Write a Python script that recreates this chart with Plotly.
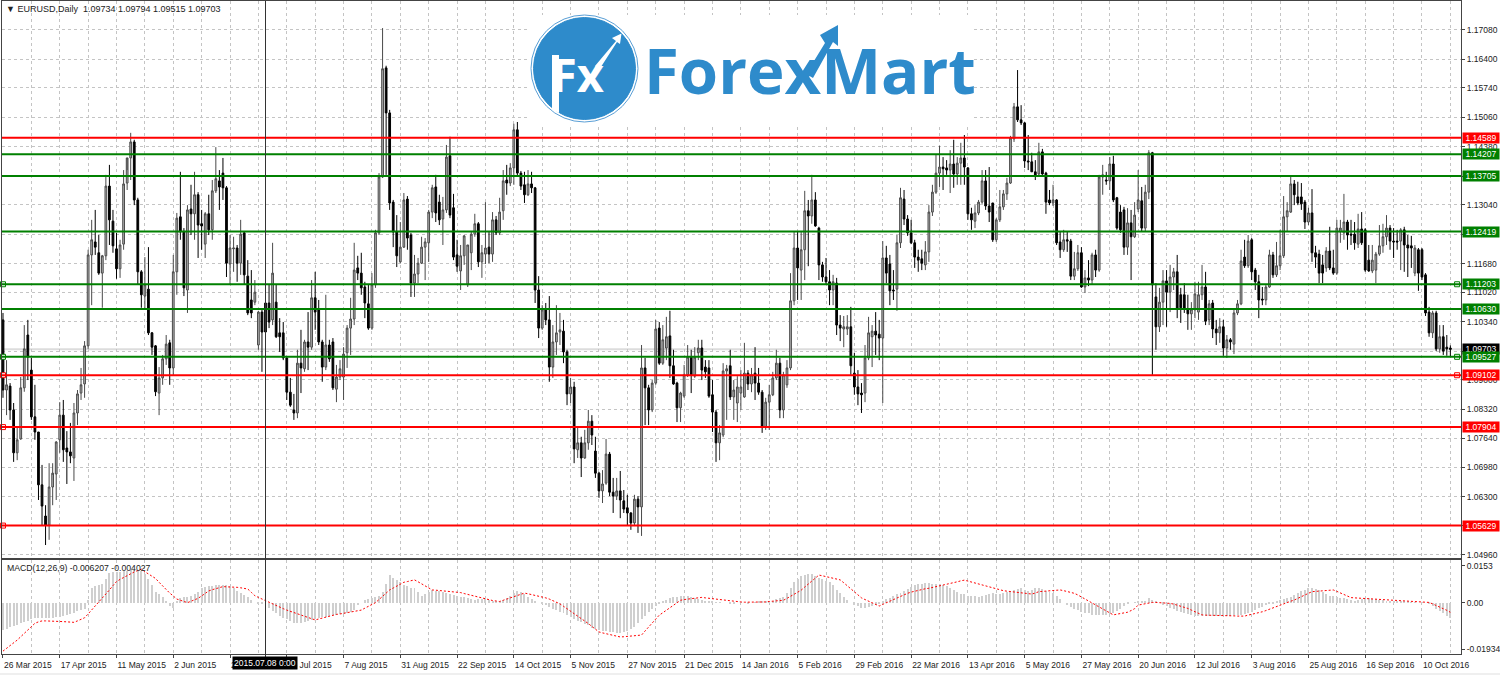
import plotly.graph_objects as go

# Prices in units of 0.0001
OPENS = [
11038,10876,10885,10830,10731,10763,10881,11003,10922,10814,
10779,10657,10585,10564,10652,10682,10761,10818,10742,10733,
10719,10823,10869,10890,10978,11188,11218,11193,11146,11186,
11347,11266,11202,11156,11213,11354,11412,11449,11315,11149,
11093,11109,11008,10978,10869,10904,10948,10985,10927,11149,
11276,11241,11107,11294,11283,11327,11260,11213,11283,11246,
11336,11359,11377,11343,11167,11202,11204,11169,11239,11139,
11084,11079,10980,11056,11077,11077,11038,11079,11008,11008,
10950,10871,10830,10823,10938,10925,10987,10975,11089,11061,
10987,10929,10980,10987,10878,10906,10906,10962,11019,11040,
11158,11146,11114,11075,11019,11119,11239,11368,11620,11516,
11310,11241,11172,11206,11317,11234,11123,11144,11169,11206,
11216,11287,11345,11310,11271,11292,11417,11297,11188,11151,
11186,11119,11193,11236,11260,11172,11190,11206,11190,11269,
11239,11290,11361,11354,11389,11477,11377,11350,11327,11352,
11343,11107,11019,11061,11038,10929,10987,11010,11012,10964,
10867,10883,10738,10754,10719,10754,10804,10735,10684,10643,
10661,10728,10640,10631,10643,10620,10604,10592,10569,10624,
10606,10927,10881,10830,10892,11019,10938,10973,11001,10932,
10892,10835,10862,10911,10952,10908,10962,10973,10929,10927,
10865,10825,10754,10772,10920,10932,10860,10846,10869,10860,
10915,10890,10915,10892,10871,10791,10848,10865,10904,10938,
10830,10888,10927,11082,11204,11153,11200,11290,11278,11315,
11250,11165,11137,11126,11107,11123,11026,11017,11017,11022,
10915,10883,10869,10869,10950,10999,11012,11005,10996,11181,
11167,11107,11109,11216,11317,11271,11239,11216,11183,11179,
11165,11195,11287,11333,11377,11391,11389,11384,11398,11375,
11400,11412,11389,11283,11266,11285,11310,11359,11301,11308,
11223,11269,11299,11329,11354,11456,11530,11500,11493,11405,
11403,11380,11375,11426,11377,11315,11308,11315,11218,11200,
11223,11220,11139,11156,11193,11114,11135,11130,11188,11153,
11368,11361,11359,11398,11320,11287,11292,11206,11262,11230,
11294,11313,11250,11333,11424,11091,11022,11079,11128,11102,
11137,11149,11096,11096,11063,11052,11061,11056,11096,11114,
11038,11077,11017,11008,11022,10973,10992,10982,11054,11075,
11183,11163,11223,11153,11126,11086,11084,11114,11188,11142,
11163,11186,11276,11287,11352,11322,11322,11310,11264,11285,
11193,11190,11165,11158,11197,11158,11146,11241,11239,11264,
11236,11236,11213,11248,11246,11176,11151,11153,11190,11209,
11230,11250,11220,11220,11220,11246,11211,11209,11146,11200,
11200,11142,11056,11008,11054,10971,10999,10975,10973]
HIGHS = [
11054,10945,10892,10846,10791,10906,11026,11038,10950,10888,
10779,10703,10610,10707,10707,10758,10848,10853,10781,10800,
10846,10876,10927,10989,11200,11269,11292,11234,11188,11373,
11396,11292,11239,11223,11384,11384,11470,11454,11320,11153,
11183,11206,11010,10980,10929,10957,11003,10992,11188,11285,
11380,11250,11303,11350,11380,11333,11292,11287,11327,11361,
11437,11384,11412,11347,11234,11230,11211,11269,11243,11176,
11153,11130,11059,11061,11107,11119,11216,11119,11042,11033,
10952,10904,10867,10969,11015,10992,11056,11130,11149,11084,
10992,11096,10992,10996,10934,10945,10975,11026,11089,11216,
11186,11193,11126,11119,11146,11246,11377,11712,11625,11523,
11315,11280,11264,11331,11324,11239,11188,11181,11230,11227,
11292,11350,11373,11327,11322,11442,11461,11329,11223,11211,
11234,11211,11241,11283,11264,11211,11310,11241,11287,11278,
11320,11384,11396,11400,11491,11495,11382,11380,11384,11380,
11345,11139,11072,11077,11093,11026,11072,11054,11038,10969,
10904,10895,10791,10768,10784,10830,10818,10768,10687,10691,
10763,10733,10673,10673,10689,10645,10634,10594,10634,10631,
10980,10950,10888,10899,11038,11033,11026,11045,11059,10969,
10895,10872,10934,10980,10969,10975,10992,10992,10945,10945,
10899,10830,10795,10938,10934,10969,10899,10908,10922,10985,
10922,10927,10975,10927,10876,10858,10888,10918,10969,10950,
10918,10945,11146,11241,11241,11241,11336,11315,11373,11333,
11253,11172,11181,11153,11142,11135,11049,11047,11049,11068,
10962,10922,10892,10980,11045,11026,11056,11038,11220,11209,
11188,11153,11234,11343,11338,11280,11269,11223,11200,11200,
11220,11303,11350,11419,11440,11414,11407,11430,11454,11414,
11447,11465,11391,11297,11303,11315,11384,11384,11391,11308,
11273,11338,11338,11366,11463,11539,11615,11534,11495,11465,
11424,11407,11447,11433,11380,11338,11350,11317,11241,11246,
11243,11225,11195,11211,11206,11153,11176,11193,11200,11373,
11396,11380,11414,11417,11322,11303,11299,11296,11292,11310,
11384,11345,11350,11430,11426,11123,11112,11153,11153,11165,
11158,11188,11112,11123,11096,11079,11126,11126,11165,11149,
11084,11084,11038,11042,11038,11003,10996,11061,11084,11200,
11223,11234,11227,11158,11142,11114,11119,11200,11195,11218,
11246,11324,11310,11368,11361,11357,11354,11315,11297,11340,
11209,11200,11188,11206,11253,11200,11269,11269,11329,11269,
11269,11264,11283,11287,11250,11211,11211,11195,11257,11260,
11280,11257,11250,11246,11250,11253,11234,11232,11211,11204,
11204,11146,11068,11059,11059,11026,11026,11003,10979]
LOWS = [
10858,10818,10807,10710,10714,10761,10872,10899,10807,10761,
10622,10564,10518,10530,10610,10622,10731,10710,10659,10707,
10666,10795,10853,10858,10971,11072,11188,11142,11066,11176,
11211,11193,11133,11135,11200,11338,11361,11303,11119,11066,
11061,11003,10957,10862,10818,10888,10934,10888,10911,11096,
11223,11093,11054,11234,11223,11181,11200,11181,11234,11223,
11331,11292,11315,11137,11119,11149,11126,11142,11119,11049,
11042,11072,10969,10918,11003,11019,11026,10996,10964,10945,
10853,10837,10807,10811,10869,10918,10922,10969,11015,10980,
10895,10922,10941,10876,10848,10899,10853,10927,10957,11026,
11130,11096,11042,11015,11015,11112,11234,11366,11373,11292,
11206,11160,11169,11204,11200,11091,11091,11123,11167,11130,
11172,11273,11264,11257,11211,11285,11273,11176,11149,11107,
11165,11114,11153,11230,11160,11135,11167,11169,11172,11234,
11234,11269,11327,11347,11350,11368,11338,11308,11324,11331,
11077,10996,11015,11026,10895,10904,10957,10980,10938,10841,
10846,10707,10719,10675,10717,10738,10749,10673,10627,10615,
10657,10631,10592,10622,10580,10592,10564,10553,10564,10546,
10539,10795,10795,10825,10888,10934,10934,10945,10904,10888,
10802,10802,10858,10906,10869,10904,10945,10899,10904,10858,
10779,10710,10714,10767,10807,10853,10807,10802,10830,10858,
10876,10871,10853,10865,10777,10784,10784,10862,10899,10811,
10811,10881,10922,11072,11084,11084,11130,11162,11260,11253,
11130,11126,11119,11072,11072,11003,10989,10975,11003,10911,
10865,10841,10823,10848,10945,10929,10957,10945,10846,11123,
11072,11084,11059,11204,11257,11232,11213,11158,11149,11153,
11153,11172,11278,11329,11345,11338,11373,11331,11343,11350,
11350,11350,11269,11246,11250,11280,11306,11292,11264,11218,
11218,11264,11292,11315,11352,11449,11495,11488,11389,11384,
11380,11361,11370,11373,11283,11303,11301,11211,11181,11195,
11195,11130,11130,11151,11112,11100,11116,11119,11137,11149,
11327,11350,11338,11310,11246,11239,11188,11188,11130,11227,
11287,11241,11241,11317,10911,10969,11010,11026,11022,11056,
11107,11042,11031,11054,11015,11015,11042,11038,11084,11026,
11026,10996,10980,10985,10955,10950,10969,10959,11049,11072,
11158,11158,11130,11107,11042,11072,11072,11112,11135,11137,
11153,11181,11243,11285,11303,11303,11292,11248,11257,11172,
11158,11123,11123,11149,11153,11142,11142,11216,11223,11200,
11211,11200,11204,11211,11149,11149,11146,11123,11186,11193,
11211,11200,11181,11200,11153,11149,11137,11158,11139,11105,
11130,11047,10999,10996,10966,10962,10957,10955,10952]
CLOSES = [
10876,10888,10830,10731,10761,10881,10971,10952,10814,10779,
10657,10608,10564,10652,10684,10756,10818,10738,10733,10724,
10823,10867,10888,10978,11188,11223,11206,11146,11186,11347,
11269,11209,11156,11211,11352,11412,11449,11315,11149,11096,
11119,11008,10975,10872,10904,10948,10982,10927,11149,11273,
11241,11112,11292,11283,11327,11257,11255,11283,11246,11336,
11364,11345,11343,11169,11204,11204,11169,11236,11142,11054,
11054,11102,11056,11010,11010,11033,11146,10999,10999,10950,
10871,10841,10823,10938,10927,10987,10975,11089,11056,10987,
10929,10980,10948,10881,10906,10925,10959,11019,11040,11153,
11146,11112,11077,11019,11119,11239,11368,11618,11516,11308,
11241,11186,11206,11315,11227,11123,11144,11169,11206,11218,
11287,11343,11285,11269,11292,11414,11280,11183,11162,11186,
11232,11211,11236,11260,11172,11193,11204,11190,11269,11239,
11287,11359,11354,11389,11477,11377,11347,11327,11352,11343,
11107,11019,11061,11038,10929,10987,11008,11015,10964,10867,
10883,10740,10754,10719,10754,10804,10772,10684,10643,10659,
10728,10640,10631,10643,10622,10601,10592,10569,10624,10606,
10927,10881,10830,10892,11017,10938,10992,10999,10932,10890,
10835,10869,10911,10952,10911,10952,10973,10922,10918,10862,
10825,10754,10777,10920,10925,10860,10876,10883,10883,10915,
10890,10911,10892,10871,10791,10848,10865,10904,10938,10830,
10911,10927,11082,11204,11158,11200,11290,11278,11315,11255,
11165,11137,11126,11107,11126,11026,11019,11022,11022,10932,
10883,10867,10865,10950,11008,11012,11003,10996,11181,11146,
11105,11105,11216,11320,11271,11239,11216,11183,11176,11169,
11195,11287,11333,11377,11391,11387,11384,11398,11375,11400,
11412,11391,11283,11269,11285,11310,11359,11301,11287,11223,
11269,11299,11329,11354,11458,11530,11500,11493,11405,11403,
11380,11370,11426,11375,11310,11308,11315,11216,11200,11223,
11220,11139,11156,11193,11114,11135,11130,11188,11153,11368,
11373,11359,11398,11315,11250,11246,11206,11262,11230,11280,
11315,11250,11333,11424,11119,11022,11079,11128,11102,11137,
11149,11063,11066,11063,11052,11063,11098,11096,11114,11035,
11075,11017,11008,11022,10973,10992,10987,11054,11075,11174,
11163,11220,11149,11126,11084,11084,11114,11188,11142,11163,
11186,11276,11290,11352,11327,11308,11306,11264,11285,11193,
11183,11146,11146,11197,11158,11146,11250,11250,11264,11234,
11234,11216,11248,11216,11153,11151,11176,11190,11209,11230,
11250,11220,11218,11218,11246,11211,11204,11204,11204,11146,
11137,11054,11008,11054,10971,10999,10966,10971,10970]

# MACD pane, units of 0.0001
MACD_HIST = [
-114,-108,-102,-97,-92,-85,-80,-75,-70,-65,
-65,-64,-64,-63,-62,-61,-60,-57,-52,-48,
-42,-35,-30,-25,10,60,68,74,80,100,
122,126,128,130,132,134,135,136,136,134,
120,100,75,46,35,22,5,-15,-24,5,
18,22,25,28,35,45,60,64,68,70,
72,74,74,72,68,60,50,42,32,24,
12,0,-2,-5,-10,-24,-35,-45,-55,-62,
-70,-78,-84,-86,-84,-80,-76,-72,-68,-65,
-60,-58,-55,-52,-50,-48,-46,-45,-40,-30,
-10,0,10,15,20,25,30,45,80,115,
105,95,85,75,68,62,60,45,30,35,
45,53,50,48,45,42,38,32,28,24,
22,20,16,12,14,16,18,12,8,6,
5,10,20,30,40,50,45,35,25,15,
8,0,-5,-10,-18,-25,-32,-38,-45,-52,
-60,-68,-75,-82,-90,-95,-105,-110,-115,-118,
-120,-122,-124,-125,-125,-122,-118,-110,-100,-85,
-70,-55,-40,-25,-15,-5,5,12,18,22,
25,28,30,28,22,18,14,10,8,6,
4,2,2,0,0,-2,-2,0,2,0,
-2,0,2,4,6,8,6,8,14,20,
25,40,60,85,100,110,115,120,118,110,
105,100,92,85,72,55,40,25,10,0,
-8,-15,-20,-22,-18,-12,-8,-2,5,15,
20,28,35,42,50,58,65,72,78,80,
82,84,80,78,76,72,68,60,52,45,
38,35,30,28,26,24,28,32,36,40,
38,35,40,45,50,55,58,60,55,48,
55,60,60,58,50,45,40,30,15,0,
-10,-18,-25,-32,-38,-42,-45,-50,-52,-52,
-50,-50,-48,-42,-35,-25,-15,-5,0,2,
4,5,8,18,10,4,0,-8,-15,-22,
-28,-34,-38,-42,-48,-52,-54,-55,-56,-56,
-56,-55,-55,-55,-54,-54,-54,-52,-52,-50,
-48,-45,-40,-30,-22,-17,-10,-5,-2,5,
10,14,18,25,32,40,48,55,60,60,
58,52,45,35,30,28,24,20,18,14,
10,8,10,14,16,18,16,14,12,10,
8,6,5,6,5,4,3,2,1,0,
2,0,-5,-15,-25,-35,-45,-55,-62]
MACD_SIGNAL = [
-202,-191,-180,-170,-156,-142,-128,-114,-100,-86,
-80,-76,-76,-76,-76,-77,-78,-79,-80,-81,
-82,-76,-70,-63,-47,-31,-15,2,18,36,
53,71,88,97,105,114,122,128,134,140,
129,120,110,101,85,69,53,40,28,15,
10,5,0,6,12,18,28,39,49,54,
58,63,67,66,66,65,64,62,60,57,
43,29,22,15,7,0,-6,-12,-19,-25,
-31,-36,-42,-47,-53,-58,-63,-67,-72,-68,
-64,-59,-55,-51,-49,-47,-44,-42,-40,-37,
-34,-31,-23,-16,-8,0,13,27,40,53,
61,69,77,85,88,92,95,87,78,70,
61,53,52,51,50,49,48,47,46,42,
38,34,30,26,22,18,15,12,9,7,
5,10,15,20,25,30,35,40,37,34,
31,28,24,20,15,9,2,-5,-15,-25,
-35,-45,-55,-65,-76,-87,-99,-110,-122,-126,
-129,-133,-136,-140,-143,-142,-141,-139,-138,-136,
-135,-118,-102,-85,-69,-52,-42,-31,-21,-10,
0,10,13,15,18,21,23,22,20,18,
16,14,12,10,8,6,5,4,3,2,
2,1,0,0,2,3,5,6,8,9,
10,18,27,35,44,52,65,78,90,103,
115,112,108,105,102,98,95,83,70,58,
45,33,20,13,6,-1,-7,-14,-7,0,
7,14,20,27,33,39,44,48,52,56,
58,60,63,67,70,73,77,80,84,87,
91,94,90,86,82,77,73,69,65,60,
56,52,50,48,46,44,43,41,39,37,
36,40,46,47,48,50,51,52,53,50,
47,43,39,32,24,16,8,0,-8,-17,
-26,-34,-43,-51,-48,-45,-43,-40,-33,-25,
-10,-7,-4,-1,1,1,0,0,0,-3,
-6,-10,-13,-17,-24,-31,-38,-44,-51,-52,
-52,-53,-53,-54,-54,-55,-55,-55,-56,-56,
-56,-52,-49,-45,-41,-38,-33,-27,-21,-16,
-10,-5,0,6,11,18,25,32,39,46,
47,48,50,51,52,53,47,41,34,27,
21,20,19,18,18,17,16,15,15,14,
13,12,11,9,8,7,6,5,4,4,
3,2,1,-5,-11,-17,-25,-32,-40]

DATE_LABELS = ["26 Mar 2015","17 Apr 2015","11 May 2015","2 Jun 2015","24 Jun 2015","16 Jul 2015",
               "7 Aug 2015","31 Aug 2015","22 Sep 2015","14 Oct 2015","5 Nov 2015","27 Nov 2015",
               "21 Dec 2015","14 Jan 2016","5 Feb 2016","29 Feb 2016","22 Mar 2016","13 Apr 2016",
               "5 May 2016","27 May 2016","20 Jun 2016","12 Jul 2016","3 Aug 2016","25 Aug 2016",
               "16 Sep 2016","10 Oct 2016"]
PRICE_TICKS = [1.17080,1.16400,1.15740,1.15060,1.14380,1.13700,1.13040,1.12360,1.11680,1.11020,
               1.10340,1.09660,1.09000,1.08320,1.07640,1.06980,1.06300,1.05620,1.04960]
RED_LEVELS = [1.14589,1.09102,1.07904,1.05629]
GREEN_LEVELS = [1.14207,1.13705,1.12419,1.11203,1.10630,1.09527]
LEFT_ANCHORS = [(1.11203,"g"),(1.09527,"g"),(1.09102,"r"),(1.07904,"r"),(1.05629,"r")]
RIGHT_ANCHORS = [(1.11203,"g"),(1.09527,"g"),(1.09102,"r")]
LAST_PRICE = 1.09703
CROSSHAIR_BAR = 74
GREEN, RED, BLUE = "#008000", "#ff0000", "#2e8bcb"
FONT = "Liberation Sans"

W, H, ML, MR, MT, MB = 1500, 675, 2, 39, 1, 21
PW, PH = W-ML-MR, H-MT-MB
px = lambda v: (v-ML)/PW
py = lambda v: (H-MB-v)/PH

n = len(CLOSES)
xs = list(range(n))
p = lambda a: [v/10000 for v in a]
m = lambda a: [v/10000 for v in a]

fig = go.Figure()
fig.add_trace(go.Candlestick(
    x=xs, open=p(OPENS), high=p(HIGHS), low=p(LOWS), close=p(CLOSES), xaxis="x", yaxis="y",
    increasing=dict(line=dict(color="#4a4a4a", width=1), fillcolor="#b4b4b4"),
    decreasing=dict(line=dict(color="#000000", width=1), fillcolor="#000000"),
    whiskerwidth=0, showlegend=False, hoverinfo="skip"))

fig.add_trace(go.Bar(x=xs, y=m(MACD_HIST), xaxis="x2", yaxis="y2", width=0.28,
                     marker=dict(color="#cfcfcf", line=dict(width=0)), showlegend=False, hoverinfo="skip"))
fig.add_trace(go.Scatter(x=xs, y=m(MACD_SIGNAL), xaxis="x2", yaxis="y2", mode="lines",
                         line=dict(color="#ff0000", width=1, dash="2px,2px"), showlegend=False, hoverinfo="skip"))

shapes, ann = [], []
shapes.append(dict(type="line", xref="paper", yref="y", x0=0, x1=1, y0=LAST_PRICE, y1=LAST_PRICE,
                   line=dict(color="#dcdcdc", width=2), layer="below"))
for lv in RED_LEVELS:
    shapes.append(dict(type="line", xref="paper", yref="y", x0=0, x1=1, y0=lv, y1=lv, line=dict(color=RED, width=2)))
for lv in GREEN_LEVELS:
    shapes.append(dict(type="line", xref="paper", yref="y", x0=0, x1=1, y0=lv, y1=lv, line=dict(color=GREEN, width=2)))
shapes.append(dict(type="line", xref="x", yref="paper", x0=CROSSHAIR_BAR, x1=CROSSHAIR_BAR, y0=py(1), y1=py(665),
                   line=dict(color="#333333", width=1)))
shapes.append(dict(type="rect", xref="paper", yref="paper", x0=px(0), x1=px(1500), y0=py(673), y1=py(675),
                   fillcolor="#efefef", line=dict(width=0)))

for side, items in ((0, LEFT_ANCHORS), (409.9, RIGHT_ANCHORS)):
    fig.add_trace(go.Scatter(x=[side]*len(items), y=[a for a, _ in items], mode="markers", xaxis="x", yaxis="y",
                             cliponaxis=False,
                             marker=dict(symbol="square", size=5, color="#ffffff",
                                         line=dict(width=1, color=[GREEN if c == "g" else RED for _, c in items])),
                             showlegend=False, hoverinfo="skip"))

def level_label(val, bg):
    ann.append(dict(xref="paper", yref="y", x=px(1462), y=val, xanchor="left", yanchor="middle",
                    text=f"{val:.5f}", showarrow=False, bgcolor=bg, width=36, height=10, align="center",
                    borderpad=0, font=dict(family=FONT, size=8.5, color="#ffffff")))
level_label(LAST_PRICE, "#000000")
for lv in RED_LEVELS:
    level_label(lv, RED)
for lv in GREEN_LEVELS:
    level_label(lv, GREEN)

def text_at(x, y, t, size=8.5, color="#222222", anchor="left", **kw):
    ann.append(dict(xref="paper", yref="paper", x=px(x), y=py(y), xanchor=anchor, yanchor="middle",
                    text=t, showarrow=False, font=dict(family=FONT, size=size, color=color), **kw))

text_at(4, 9, "▼ EURUSD,Daily  1.09734 1.09794 1.09515 1.09703", size=9)
text_at(5, 567.5, "MACD(12,26,9) -0.006207 -0.004027", size=8.7)
text_at(232, 663, "2015.07.08 0:00", color="#ffffff", bgcolor="#000000", borderpad=1)

# Logo
def path(points):
    return "M " + " L ".join(f"{px(a):.5f},{py(b):.5f}" for a, b in points) + " Z"
def poly(points, fill):
    shapes.append(dict(type="path", xref="paper", yref="paper", path=path(points), fillcolor=fill, line=dict(width=0)))
def circle(cx, cy, r, fill, line=None):
    shapes.append(dict(type="circle", xref="paper", yref="paper", x0=px(cx-r), x1=px(cx+r), y0=py(cy+r), y1=py(cy-r),
                       fillcolor=fill, line=dict(color=line or fill, width=1)))
poly([(528,15),(973,15),(973,124),(528,124)], "#ffffff")
circle(584.5, 68.5, 53.5, "#ffffff", "#5a9fd6")
circle(584.5, 68.5, 51, BLUE)
poly([(552,55),(559,55),(559,113),(552,110)], "#ffffff")
poly([(595,66),(616,41),(612,38),(621.5,33.5),(620,44),(617,42),(599,70)], "#ffffff")
ann.append(dict(xref="paper", yref="paper", x=px(549), y=py(74), xanchor="left", yanchor="middle",
                text="<b>Fx</b>", showarrow=False, font=dict(family="Open Sans", size=47, color="#ffffff")))
ann.append(dict(xref="paper", yref="paper", x=px(642), y=py(70), xanchor="left", yanchor="middle",
                text="<b>ForexMart</b>", showarrow=False, font=dict(family="Open Sans", size=63.5, color=BLUE)))
poly([(806,74),(825,43),(820,35),(838,25),(838,46),(833,42),(813,78)], BLUE)

axis_common = dict(showgrid=True, gridcolor="#c4c4c4", griddash="3px,3px", gridwidth=1, showline=True,
                   linecolor="#444444", linewidth=1, mirror=True, zeroline=False, automargin=False)
major = xs[::16]
minor = dict(showgrid=True, dtick=8, tick0=0, gridcolor="#c4c4c4", griddash="3px,3px", gridwidth=1, ticks="")
xrange = [-0.28, 411.0]

fig.update_layout(
    width=W, height=H, margin=dict(l=ML, r=MR, t=MT, b=MB, pad=0, autoexpand=False),
    paper_bgcolor="#ffffff", plot_bgcolor="#ffffff", showlegend=False, bargap=0,
    font=dict(family=FONT, size=8.5, color="#222222"),
    shapes=shapes, annotations=ann,
    xaxis=dict(domain=[0, 1], anchor="y", range=xrange, tickmode="array", tickvals=major, ticktext=[""]*len(major),
               ticks="", showticklabels=False, rangeslider=dict(visible=False), minor=minor, **axis_common),
    yaxis=dict(domain=[0.147, 1], anchor="x", side="right", range=[1.0488, 1.17745], tickmode="array",
               tickvals=PRICE_TICKS, ticktext=[f"{v:.5f}" for v in PRICE_TICKS], ticks="outside", ticklen=3,
               tickcolor="#444444", tickfont=dict(family=FONT, size=8.5, color="#222222"), **axis_common),
    xaxis2=dict(domain=[0, 1], anchor="y2", range=xrange, tickmode="array", tickvals=major, ticktext=DATE_LABELS,
                tickangle=0, ticks="outside", ticklen=3, tickcolor="#444444", ticklabelposition="outside right",
                ticklabelstandoff=3, tickfont=dict(family=FONT, size=8.5, color="#222222"), minor=minor, **axis_common),
    yaxis2=dict(domain=[0, 0.144], anchor="x2", side="right", range=[-0.0214, 0.0178], tickmode="array",
                tickvals=[0.0153, 0.0, -0.01934], ticktext=["0.0153", "0.00", "-0.01934"], ticks="outside", ticklen=3,
                tickcolor="#444444", tickfont=dict(family=FONT, size=8.5, color="#222222"), automargin=False,
                showgrid=False, showline=True, linecolor="#444444", linewidth=1, mirror=True, zeroline=False),
)
fig.write_html("out.html", config=dict(displayModeBar=False),
               post_script="document.body.style.margin='0';document.body.style.overflow='hidden';")
